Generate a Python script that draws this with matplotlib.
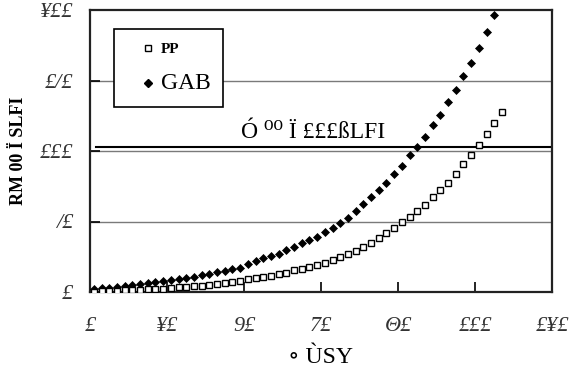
import matplotlib
matplotlib.use("Agg")
import matplotlib.pyplot as plt
from matplotlib.lines import Line2D

# ---- data ----
x_pp = list(range(1, 108, 2))
y_pp = [0.3, 0.5, 0.7, 0.9, 1.1, 1.3, 1.5, 1.8, 2.1, 2.4, 2.8, 3.2, 3.6, 4.1,
        4.6, 5.1, 5.7, 6.3, 7.0, 8.0, 9.0, 10.0, 10.9, 11.7, 12.6, 13.7, 15.4,
        16.6, 17.8, 19.2, 20.8, 22.7, 24.6, 26.9, 29.3, 32.0, 34.7, 38.0, 41.6,
        45.6, 49.9, 53.2, 57.7, 62.0, 67.3, 72.3, 77.1, 84.0, 91.0, 97.4, 104.3,
        112.4, 119.8, 128.0]

x_gab = list(range(1, 106, 2))
y_gab = [2.0, 2.6, 3.1, 3.6, 4.2, 4.9, 5.6, 6.3, 7.0, 7.7, 8.5, 9.2, 10.0, 10.9,
         11.8, 12.8, 13.9, 15.0, 16.2, 17.2, 19.6, 22.0, 23.9, 25.5, 27.3, 29.8,
         31.9, 34.5, 36.6, 39.2, 42.3, 45.2, 49.1, 52.3, 57.5, 62.5, 67.6, 72.3,
         77.6, 83.7, 89.6, 97.0, 102.8, 109.9, 118.2, 125.3, 134.8, 143.5, 153.0,
         162.6, 173.3, 184.2, 196.2]

threshold = 103
threshold_label = "Ó ⁰⁰ Ï £££ßLFI"

x_ticks = [0, 20, 40, 60, 80, 100, 120]
x_ticklabels = ["£", "¥£", "9£", "7£", "Θ£", "£££", "£¥£"]
y_ticks = [0, 50, 100, 150, 200]
y_ticklabels = ["£", "/£", "£££", "£/£", "¥££"]

series_labels = ["PP", "GAB"]
x_label = "∘ ÙSY"
y_label = "RM 00 Ï SLFI"

# ---- figure ----
serif = ["Liberation Serif", "DejaVu Serif"]
fig = plt.figure(figsize=(5.75, 3.88), dpi=100)
ax = fig.add_axes([90 / 575, 1 - 292 / 388, 462 / 575, 282 / 388])

ax.set_xlim(0, 120)
ax.set_ylim(0, 200)

for v in [50, 100, 150]:
    ax.axhline(v, color="#7a7a7a", lw=1.0, zorder=1)

ax.axhline(threshold, xmin=0.012, xmax=1, color="black", lw=1.5, zorder=2)

ax.plot(x_gab, y_gab, linestyle="none", marker="D", ms=4.4, mfc="black",
        mec="black", mew=0.5, zorder=3)
ax.plot(x_pp, y_pp, linestyle="none", marker="s", ms=4.4, mfc="white",
        mec="black", mew=1.0, zorder=4)

ax.set_xticks(x_ticks)
ax.set_xticklabels(x_ticklabels, family=serif, style="italic", fontsize=16,
                   color="#333333")
ax.set_yticks(y_ticks)
ax.set_yticklabels(y_ticklabels, family=serif, style="italic", fontsize=16,
                   color="#333333")
ax.tick_params(direction="in", length=7, width=1.2)
ax.tick_params(axis="x", pad=18)
ax.tick_params(axis="y", pad=12)

for s in ax.spines.values():
    s.set_linewidth(1.6)
    s.set_color("#222222")

ax.text(58, threshold + 3, threshold_label, ha="center", va="bottom",
        family=serif, fontsize=17)

ax.set_xlabel(x_label, family=serif, fontsize=17, labelpad=8)
ax.set_ylabel(y_label, family=serif, fontsize=13, labelpad=9, fontweight="bold")

handles = [
    Line2D([], [], linestyle="none", marker="s", ms=4.4, mfc="white",
           mec="black", mew=1.0),
    Line2D([], [], linestyle="none", marker="D", ms=4.4, mfc="black",
           mec="black"),
]
leg = ax.legend(handles, series_labels, loc="upper left",
                bbox_to_anchor=(0.052, 0.932), frameon=True, fancybox=False,
                edgecolor="black", framealpha=1, borderpad=0.75,
                labelspacing=1.0, handlelength=2.6, handletextpad=-0.55,
                borderaxespad=0, prop={"family": serif, "size": 12})
leg.get_frame().set_linewidth(1.2)
leg.get_texts()[0].set_fontsize(11)
leg.get_texts()[0].set_fontweight("bold")
leg.get_texts()[1].set_fontsize(17)
leg.set_zorder(5)

fig.savefig("out.png", dpi=100)
